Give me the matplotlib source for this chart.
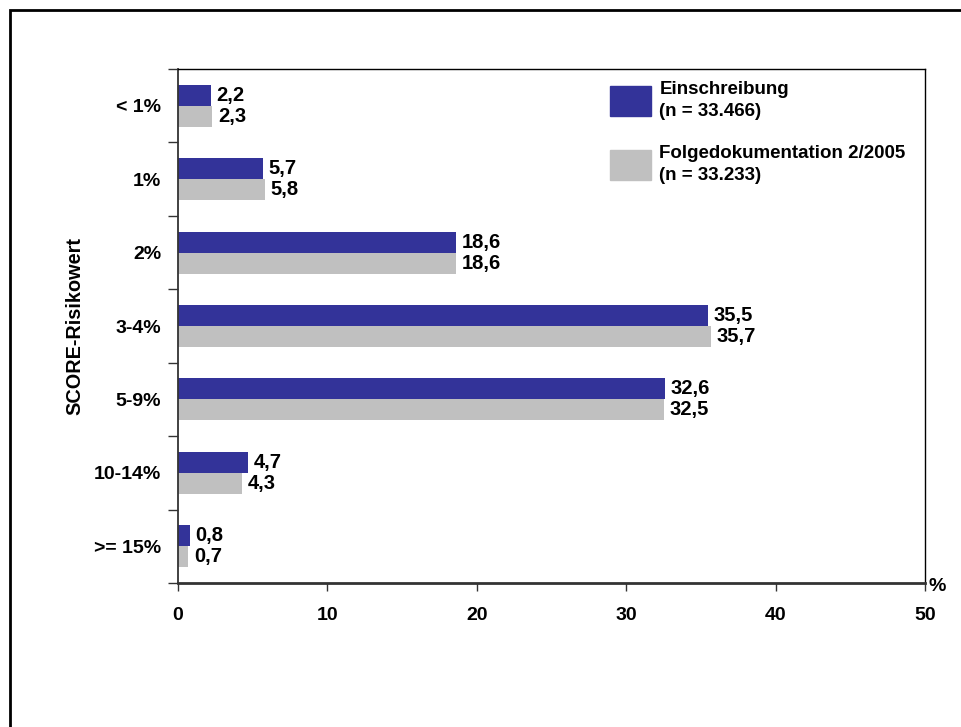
import numpy as np
import matplotlib.pyplot as plt
from matplotlib.patches import Rectangle, Patch

plt.rcParams['font.family'] = ['Liberation Sans', 'DejaVu Sans']
plt.rcParams['font.weight'] = 'bold'

categories = ['< 1%', '1%', '2%', '3-4%', '5-9%', '10-14%', '>= 15%']
einschreibung = [2.2, 5.7, 18.6, 35.5, 32.6, 4.7, 0.8]
folgedoku = [2.3, 5.8, 18.6, 35.7, 32.5, 4.3, 0.7]
series_names = ['Einschreibung\n(n = 33.466)', 'Folgedokumentation 2/2005\n(n = 33.233)']
colors = ['#333399', '#C0C0C0']
xticks = [0, 10, 20, 30, 40, 50]

fig = plt.figure(figsize=(9.62, 7.27), dpi=100)
ax = fig.add_axes([178 / 962, 1 - 583 / 727, 747 / 962, 514 / 727])

# outer frame
fig.add_artist(Rectangle((10 / 962, -0.1), 1.2, 1 - 10 / 727 + 0.1,
                         transform=fig.transFigure, fill=False,
                         edgecolor='black', linewidth=2))

y = np.arange(len(categories))
h = 0.286
ax.barh(y - h / 2, einschreibung, height=h, color=colors[0])
ax.barh(y + h / 2, folgedoku, height=h, color=colors[1])

def fmt(v):
    return f'{v:.1f}'.replace('.', ',')

for i in range(len(categories)):
    ax.annotate(fmt(einschreibung[i]), (einschreibung[i], y[i] - h / 2),
                xytext=(4, 0), textcoords='offset points',
                va='center', ha='left', fontsize=14.5, fontweight='bold')
    ax.annotate(fmt(folgedoku[i]), (folgedoku[i], y[i] + h / 2),
                xytext=(4, 0), textcoords='offset points',
                va='center', ha='left', fontsize=14.5, fontweight='bold')

ax.set_xlim(0, 50)
ax.set_ylim(len(categories) - 0.5, -0.5)
ax.set_xticks(xticks)
ax.set_xticklabels([str(t) for t in xticks], fontsize=14, fontweight='bold')
ax.tick_params(axis='x', length=6, width=1, pad=11, color='#333333')

ax.set_yticks(np.arange(len(categories) + 1) - 0.5)
ax.set_yticklabels([])
ax.set_yticks(y, minor=True)
ax.set_yticklabels(categories, minor=True, fontsize=14, fontweight='bold')
ax.tick_params(axis='y', which='major', length=7, width=1, color='#333333')
ax.tick_params(axis='y', which='minor', length=0, pad=12)

ax.spines['left'].set_color('#333333')
ax.spines['bottom'].set_color('#333333')
ax.spines['bottom'].set_linewidth(2)
ax.spines['left'].set_linewidth(1.3)
ax.spines['top'].set_linewidth(1)
ax.spines['right'].set_linewidth(1)

ax.set_ylabel('SCORE-Risikowert', fontsize=14.3, fontweight='bold')
ax.yaxis.set_label_coords((84 - 178) / 747, 0.5)
ax.text(1.016, -0.006, '%', transform=ax.transAxes, fontsize=14,
        fontweight='bold', ha='center', va='center')

handles = [Patch(color=c) for c in colors]
leg = ax.legend(handles, series_names, loc='upper left',
                bbox_to_anchor=((610 - 178) / 747, (583 - 81) / 514),
                frameon=False, prop={'weight': 'bold', 'size': 13.5},
                handlelength=2.2, handleheight=2.05, handletextpad=0.43,
                labelspacing=1.3, borderpad=0, borderaxespad=0)
for t in leg.get_texts():
    t.set_linespacing(1.4)

fig.savefig('out.png', dpi=100)
